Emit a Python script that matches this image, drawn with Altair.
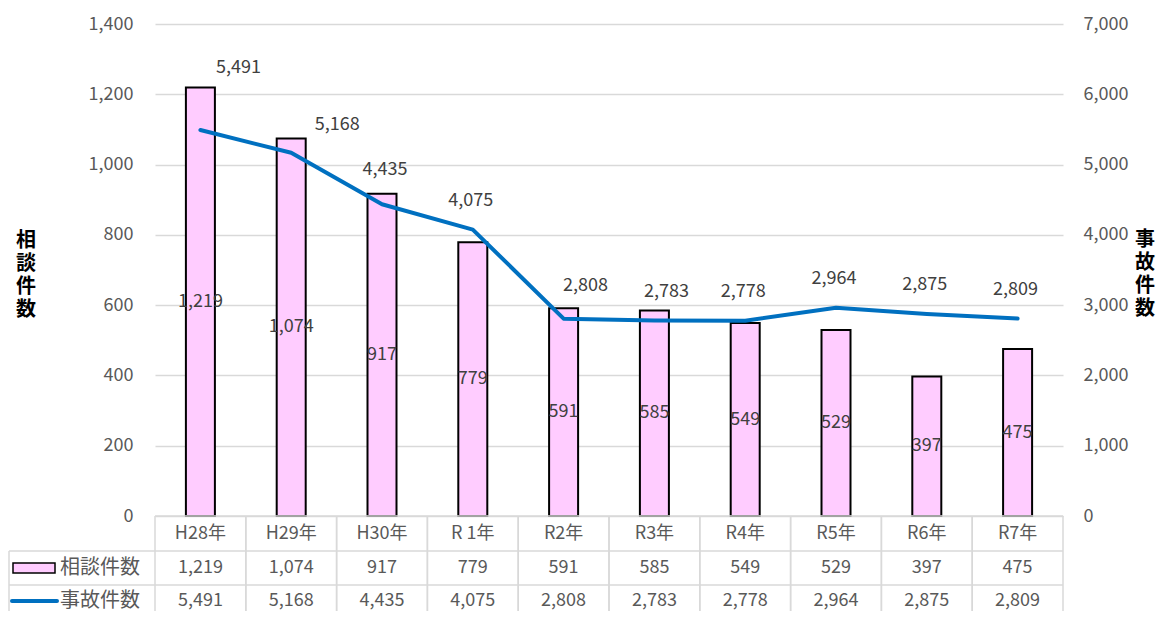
import altair as alt
import pandas as pd

# ---- data ----
categories = ["H28年", "H29年", "H30年", "R 1年", "R2年", "R3年", "R4年", "R5年", "R6年", "R7年"]
consult = [1219, 1074, 917, 779, 591, 585, 549, 529, 397, 475]          # 相談件数 (left axis)
accidents = [5491, 5168, 4435, 4075, 2808, 2783, 2778, 2964, 2875, 2809]  # 事故件数 (right axis)
left_ticks = [0, 200, 400, 600, 800, 1000, 1200, 1400]
right_ticks = [0, 1000, 2000, 3000, 4000, 5000, 6000, 7000]

# label placement groups for the line labels (style, not data)
label_groups = [
    (["H28年"], 38, -62),
    (["H29年"], 46, -28),
    (["H30年"], 3, -34),
    (["R2年"], 22, -33),
    (["R3年"], 12, -28),
    (["R 1年", "R4年", "R5年", "R6年", "R7年"], -2, -29),
]

FONT = "Noto Sans CJK JP"
GRAY = "#595959"
DARK = "#404040"
GRID = "#D9D9D9"
PINK = "#FFCCFF"
BLUE = "#0070C0"
FS = 18
W, H = 908, 492

df = pd.DataFrame({"cat": categories, "consult": consult, "accidents": accidents})


def xenc(bp=None):
    kw = dict(sort=categories, axis=None, scale=alt.Scale(paddingInner=0, paddingOuter=0))
    if bp is not None:
        kw["bandPosition"] = bp
    return alt.X("cat:N", **kw)


base = alt.Chart(df).encode(x=xenc())
LEFT_SCALE = alt.Scale(domain=[0, 1400], nice=False)
RIGHT_SCALE = alt.Scale(domain=[0, 7000], nice=False)

bars = base.mark_bar(width=29, fill=PINK, stroke="#000000", strokeWidth=2).encode(
    y=alt.Y(
        "consult:Q",
        scale=LEFT_SCALE,
        axis=alt.Axis(
            values=left_ticks, format=",.0f", title=None, orient="left", domain=False, ticks=False,
            grid=True, gridColor=GRID, gridWidth=1.3,
            labelFont=FONT, labelFontSize=FS, labelColor=GRAY, labelPadding=22,
        ),
    )
)

bar_text = base.transform_calculate(half="datum.consult / 2").mark_text(
    font=FONT, fontSize=FS, color=DARK, baseline="middle", align="center"
).encode(
    y=alt.Y("half:Q", scale=LEFT_SCALE, axis=None),
    text=alt.Text("consult:Q", format=","),
)

line = base.mark_line(color=BLUE, strokeWidth=4, strokeJoin="round", strokeCap="round").encode(
    y=alt.Y(
        "accidents:Q",
        scale=RIGHT_SCALE,
        axis=alt.Axis(
            values=right_ticks, format=",.0f", title=None, orient="right",
            domain=False, ticks=False, grid=False,
            labelFont=FONT, labelFontSize=FS, labelColor=GRAY, labelPadding=20,
        ),
    )
)

line_labels = []
for cats, dx, dy in label_groups:
    line_labels.append(
        base.transform_filter(alt.FieldOneOfPredicate(field="cat", oneOf=cats))
        .mark_text(font=FONT, fontSize=FS, color=DARK, baseline="middle", align="center", dx=dx, dy=dy)
        .encode(y=alt.Y("accidents:Q", scale=RIGHT_SCALE, axis=None),
                text=alt.Text("accidents:Q", format=","))
    )

# ---- table under the plot ----
vlines0 = base.mark_rule(color=GRID, strokeWidth=1.5).encode(
    x=xenc(0), y=alt.value(H), y2=alt.value(H + 120)
)
vlines1 = base.mark_rule(color=GRID, strokeWidth=1.5).encode(
    x=xenc(1), y=alt.value(H), y2=alt.value(H + 120)
)
one = alt.Chart(pd.DataFrame({"k": [0]}))
hline_top = one.mark_rule(color=GRID, strokeWidth=1.5).encode(
    x=alt.value(0), x2=alt.value(W), y=alt.value(H)
)
hline_2 = one.mark_rule(color=GRID, strokeWidth=1.5).encode(
    x=alt.value(-146), x2=alt.value(W), y=alt.value(H + 35)
)
hline_3 = one.mark_rule(color=GRID, strokeWidth=1.5).encode(
    x=alt.value(-146), x2=alt.value(W), y=alt.value(H + 69)
)
vline_left = one.mark_rule(color=GRID, strokeWidth=1.5).encode(
    x=alt.value(-146), y=alt.value(H + 35), y2=alt.value(H + 120)
)

tbl_style = dict(font=FONT, fontSize=FS, color=GRAY, baseline="middle", align="center")
head_txt = base.mark_text(**tbl_style).encode(y=alt.value(H + 18), text="cat:N")
row1_txt = base.mark_text(**tbl_style).encode(
    y=alt.value(H + 52), text=alt.Text("consult:Q", format=",")
)
row2_txt = base.mark_text(**tbl_style).encode(
    y=alt.value(H + 85), text=alt.Text("accidents:Q", format=",")
)

leg_rect = one.mark_rect(fill=PINK, stroke="#000000", strokeWidth=1.5).encode(
    x=alt.value(-142), x2=alt.value(-100), y=alt.value(H + 47), y2=alt.value(H + 57)
)
leg_line = one.mark_rule(color=BLUE, strokeWidth=4, strokeCap="round").encode(
    x=alt.value(-143), x2=alt.value(-98), y=alt.value(H + 85)
)
leg_style = dict(font=FONT, fontSize=20, color=GRAY, baseline="middle", align="left")
leg_t1 = alt.Chart(pd.DataFrame({"t": ["相談件数"]})).mark_text(**leg_style).encode(
    x=alt.value(-95), y=alt.value(H + 52), text="t:N"
)
leg_t2 = alt.Chart(pd.DataFrame({"t": ["事故件数"]})).mark_text(**leg_style).encode(
    x=alt.value(-95), y=alt.value(H + 85), text="t:N"
)

# ---- vertical axis titles ----
ttl_style = dict(font=FONT, fontSize=20, fontWeight="bold", color="#000000",
                 baseline="middle", align="center", lineBreak="\n", lineHeight=23)
left_title = alt.Chart(pd.DataFrame({"t": ["相\n談\n件\n数"]})).mark_text(**ttl_style).encode(
    x=alt.value(-129), y=alt.value(217), text="t:N"
)
right_title = alt.Chart(pd.DataFrame({"t": ["事\n故\n件\n数"]})).mark_text(**ttl_style).encode(
    x=alt.value(W + 82), y=alt.value(216), text="t:N"
)

chart = (
    alt.layer(
        bars, bar_text, line, *line_labels,
        vlines0, vlines1, hline_top, hline_2, hline_3, vline_left,
        head_txt, row1_txt, row2_txt, leg_rect, leg_line, leg_t1, leg_t2,
        left_title, right_title,
    )
    .resolve_scale(y="independent")
    .properties(
        width=W,
        height=H,
        autosize=alt.AutoSizeParams(type="none"),
        padding={"left": 147, "top": 16, "right": 93, "bottom": 95},
        background="#FFFFFF",
    )
    .configure_view(stroke=None)
)

chart.save("out.html", embed_options={"renderer": "svg", "actions": False})
